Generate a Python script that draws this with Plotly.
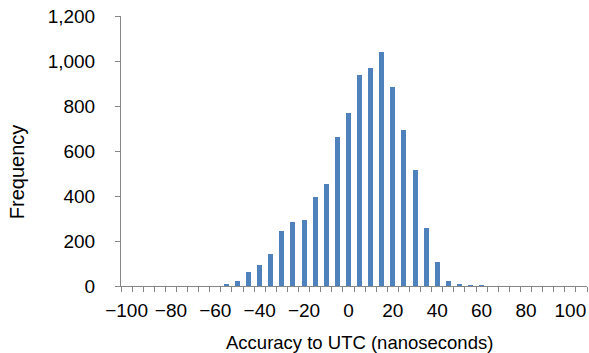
import plotly.graph_objects as go

# Histogram bins (nanoseconds) and their frequencies
bins = list(range(-100, 110, 5))  # -100 ... 105
counts = [0, 0, 0, 0, 0, 0, 0, 0, 0,
          7, 24, 61, 94, 144, 245, 286, 295, 397, 452, 664, 769,
          940, 967, 1041, 884, 692, 516, 258, 106, 24, 8, 4, 4,
          0, 0, 0, 0, 0, 0, 0, 0, 0]

x_tick_vals = list(range(-100, 101, 20))
x_tick_text = [("\u2212" + str(abs(v))) if v < 0 else str(v) for v in x_tick_vals]
y_tick_vals = list(range(0, 1201, 200))

AXIS = "#868686"
FONT = "Liberation Sans, Arial, sans-serif"

fig = go.Figure(go.Bar(x=bins, y=counts, width=2.25,
                       marker=dict(color="#4F81BD", line=dict(width=0))))

fig.update_layout(
    width=589, height=353,
    margin=dict(l=121, r=2, t=16, b=67, autoexpand=False),
    paper_bgcolor="white", plot_bgcolor="white",
    font=dict(family=FONT, size=19, color="#000000"),
    showlegend=False,
    bargap=0,
)
fig.update_xaxes(
    range=[-102.5, 107.5], automargin=False, ticklabeloverflow="allow",
    tickmode="array", tickvals=x_tick_vals, ticktext=x_tick_text,
    ticks="", showgrid=False, zeroline=False,
    showline=True, linecolor=AXIS, linewidth=1,
    ticklabelstandoff=7,
    minor=dict(tickmode="array",
               tickvals=[-102.5 + 5 * k for k in range(43)],
               ticks="outside", ticklen=5, tickcolor=AXIS, tickwidth=1,
               showgrid=False),
)
fig.update_yaxes(
    range=[0, 1200], automargin=False, ticklabeloverflow="allow",
    tickmode="array", tickvals=y_tick_vals, tickformat=",d",
    ticks="outside", ticklen=5, tickcolor=AXIS, tickwidth=1,
    showgrid=False, zeroline=False,
    showline=True, linecolor=AXIS, linewidth=1,
    ticklabelstandoff=16,
)
fig.add_annotation(text="Accuracy to UTC (nanoseconds)", xref="paper", yref="paper",
                   x=0.512, y=-0.209, yanchor="middle", xanchor="center", showarrow=False,
                   font=dict(size=18.5, family=FONT, color="#000000"))
fig.add_annotation(text="Frequency", xref="paper", yref="paper",
                   x=-0.223, y=0.422, xanchor="center", yanchor="middle", textangle=-90,
                   showarrow=False, font=dict(size=20, family=FONT, color="#000000"))

# remove the default 8px page margin so the figure fills the window exactly
fig.write_html("out.html", config={"displayModeBar": False},
               post_script="document.body.style.margin='0px';")
